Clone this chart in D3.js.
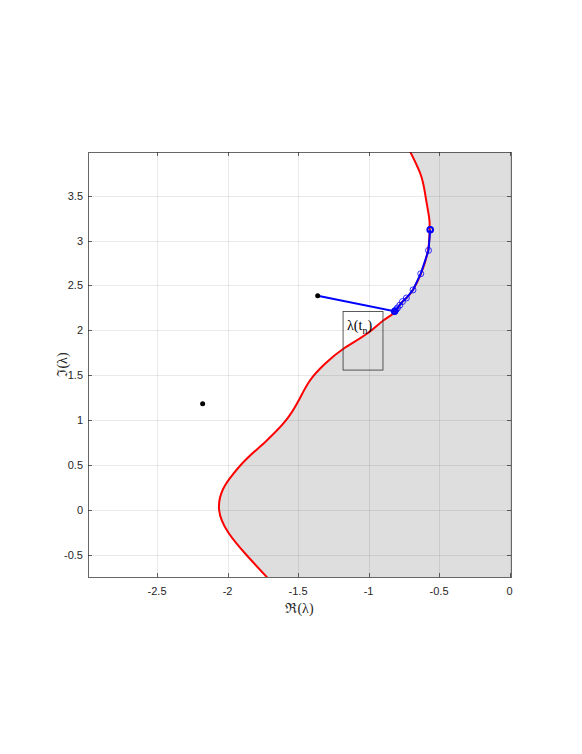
<!DOCTYPE html>
<html>
<head>
<meta charset="utf-8">
<script src="https://cdn.jsdelivr.net/npm/d3@7"></script>
<style>
html,body{margin:0;padding:0;background:#fff;}
svg{display:block;}
</style>
</head>
<body>
<svg id="chart" width="582" height="754"></svg>
<script>
// ---- data ----
const xTicks = [-2.5, -2, -1.5, -1, -0.5, 0];
const yTicks = [-0.5, 0, 0.5, 1, 1.5, 2, 2.5, 3, 3.5];
const xTickLabels = ["-2.5", "-2", "-1.5", "-1", "-0.5", "0"];
const yTickLabels = ["-0.5", "0", "0.5", "1", "1.5", "2", "2.5", "3", "3.5"];

// stability boundary (red)
const boundaryIm = [-0.8, -0.5, -0.25, 0, 0.234, 0.401, 0.568, 0.772, 0.994, 1.216, 1.439, 1.625, 1.792, 1.959, 2.107, 2.199, 2.283, 2.36, 2.452, 2.627, 2.886, 3.12, 3.26, 3.5, 3.74, 4.05];
const boundaryRe = [-1.69, -1.866, -1.995, -2.06, -2.032, -1.961, -1.866, -1.724, -1.588, -1.497, -1.417, -1.311, -1.181, -1.015, -0.898, -0.815, -0.779, -0.732, -0.685, -0.630, -0.579, -0.567, -0.571, -0.597, -0.632, -0.725];

// eigenvalue path (blue)
const pathRe = [-1.361, -0.815, -0.818, -0.812, -0.805, -0.795, -0.779, -0.760, -0.732, -0.685, -0.630, -0.575, -0.563];
const pathIm = [2.386, 2.212, 2.208, 2.218, 2.23, 2.25, 2.28, 2.32, 2.36, 2.45, 2.63, 2.89, 3.12];

// isolated eigenvalues (black dots)
const dotRe = [-1.361, -2.177];
const dotIm = [2.386, 1.184];

// annotation box (data coords)
const boxRe = [-1.181, -0.898];
const boxIm = [1.558, 2.21];

// ---- layout ----
const svg = d3.select("#chart");
const L = 88, R = 511, T = 152, B = 577;
const x = d3.scaleLinear().domain([-2.99, 0.01]).range([L, R]);
const y = d3.scaleLinear().domain([-0.745, 3.985]).range([B, T]);

svg.append("defs").append("clipPath").attr("id", "clip")
  .append("rect").attr("x", L).attr("y", T).attr("width", R - L).attr("height", B - T);

const plot = svg.append("g").attr("clip-path", "url(#clip)");

// shaded region right of boundary
const bpts = boundaryRe.map((v, i) => [v, boundaryIm[i]]);
const lineFn = d3.line().x(d => x(d[0])).y(d => y(d[1])).curve(d3.curveNatural);
plot.append("path")
  .attr("d", lineFn(bpts) + "L" + x(0.2) + "," + y(4.05) + "L" + x(0.2) + "," + y(-0.8) + "Z")
  .attr("fill", "#dedede").attr("stroke", "none");

// grid
const grid = svg.append("g").attr("stroke", "#262626").attr("stroke-opacity", 0.1).attr("stroke-width", 1);
xTicks.forEach(t => grid.append("line").attr("x1", Math.round(x(t)) + 0.5).attr("x2", Math.round(x(t)) + 0.5).attr("y1", T).attr("y2", B));
yTicks.forEach(t => grid.append("line").attr("y1", Math.round(y(t)) + 0.5).attr("y2", Math.round(y(t)) + 0.5).attr("x1", L).attr("x2", R));

// red boundary
plot.append("path").attr("d", lineFn(bpts))
  .attr("fill", "none").attr("stroke", "#ff0000").attr("stroke-width", 2);

// blue path
const ppts = pathRe.map((v, i) => [v, pathIm[i]]);
plot.append("path").attr("d", d3.line().x(d => x(d[0])).y(d => y(d[1]))(ppts))
  .attr("fill", "none").attr("stroke", "#0000ff").attr("stroke-width", 2);
plot.selectAll("circle.c").data(ppts.slice(1)).enter().append("circle")
  .attr("cx", d => x(d[0])).attr("cy", d => y(d[1])).attr("r", 3)
  .attr("fill", "none").attr("stroke", "#0000ff").attr("stroke-width", 0.8);
const last = ppts[ppts.length - 1];
plot.append("circle").attr("cx", x(last[0])).attr("cy", y(last[1])).attr("r", 2.8)
  .attr("fill", "none").attr("stroke", "#0000ff").attr("stroke-width", 2);
const first = ppts[1];
plot.append("circle").attr("cx", x(first[0])).attr("cy", y(first[1])).attr("r", 2.5)
  .attr("fill", "none").attr("stroke", "#0000ff").attr("stroke-width", 2);

// black dots
plot.selectAll("circle.d").data(dotRe.map((v, i) => [v, dotIm[i]])).enter().append("circle")
  .attr("cx", d => x(d[0])).attr("cy", d => y(d[1])).attr("r", 2.5).attr("fill", "#000");

// annotation box
svg.append("rect")
  .attr("x", x(boxRe[0])).attr("y", y(boxIm[1]))
  .attr("width", x(boxRe[1]) - x(boxRe[0])).attr("height", y(boxIm[0]) - y(boxIm[1]))
  .attr("fill", "none").attr("stroke", "#333").attr("stroke-width", 0.8);
const ann = svg.append("text")
  .attr("x", x(boxRe[0]) + 4).attr("y", y(boxIm[1]) + 18.5)
  .attr("font-family", "Liberation Serif, DejaVu Serif, serif").attr("font-size", 14).attr("fill", "#000");
ann.append("tspan").text("λ(t");
ann.append("tspan").attr("font-size", 10).attr("dy", 4.5).text("n");
ann.append("tspan").attr("dy", -4.5).text(")");

// axes box
const axc = "#262626";
svg.append("rect").attr("x", L + 0.5).attr("y", T + 0.5).attr("width", R - L).attr("height", B - T)
  .attr("fill", "none").attr("stroke", axc).attr("stroke-opacity", 0.7).attr("stroke-width", 1);

// ticks
const tk = svg.append("g").attr("stroke", axc).attr("stroke-opacity", 0.7).attr("stroke-width", 1);
xTicks.forEach(t => {
  const px = Math.round(x(t)) + 0.5;
  tk.append("line").attr("x1", px).attr("x2", px).attr("y1", B).attr("y2", B - 4);
  tk.append("line").attr("x1", px).attr("x2", px).attr("y1", T).attr("y2", T + 4);
});
yTicks.forEach(t => {
  const py = Math.round(y(t)) + 0.5;
  tk.append("line").attr("y1", py).attr("y2", py).attr("x1", L).attr("x2", L + 4);
  tk.append("line").attr("y1", py).attr("y2", py).attr("x1", R).attr("x2", R - 4);
});

// tick labels
const tf = "Liberation Sans, Arial, Helvetica, sans-serif";
svg.append("g").selectAll("text").data(xTicks).enter().append("text")
  .attr("x", d => x(d)).attr("y", 595).attr("text-anchor", "middle")
  .attr("font-family", tf).attr("font-size", 11).attr("fill", axc)
  .text((d, i) => xTickLabels[i]);
svg.append("g").selectAll("text").data(yTicks).enter().append("text")
  .attr("x", 83).attr("y", d => y(d) + 4).attr("text-anchor", "end")
  .attr("font-family", tf).attr("font-size", 11).attr("fill", axc)
  .text((d, i) => yTickLabels[i]);

// axis labels
const lf = "Liberation Serif, DejaVu Serif, serif";
svg.append("text").attr("x", (L + R) / 2).attr("y", 613).attr("text-anchor", "middle")
  .attr("font-family", lf).attr("font-size", 14).attr("fill", axc).text("ℜ(λ)");
svg.append("text").attr("transform", `translate(67,${(T + B) / 2}) rotate(-90)`).attr("text-anchor", "middle")
  .attr("font-family", lf).attr("font-size", 14).attr("fill", axc).text("ℑ(λ)");
</script>
</body>
</html>
